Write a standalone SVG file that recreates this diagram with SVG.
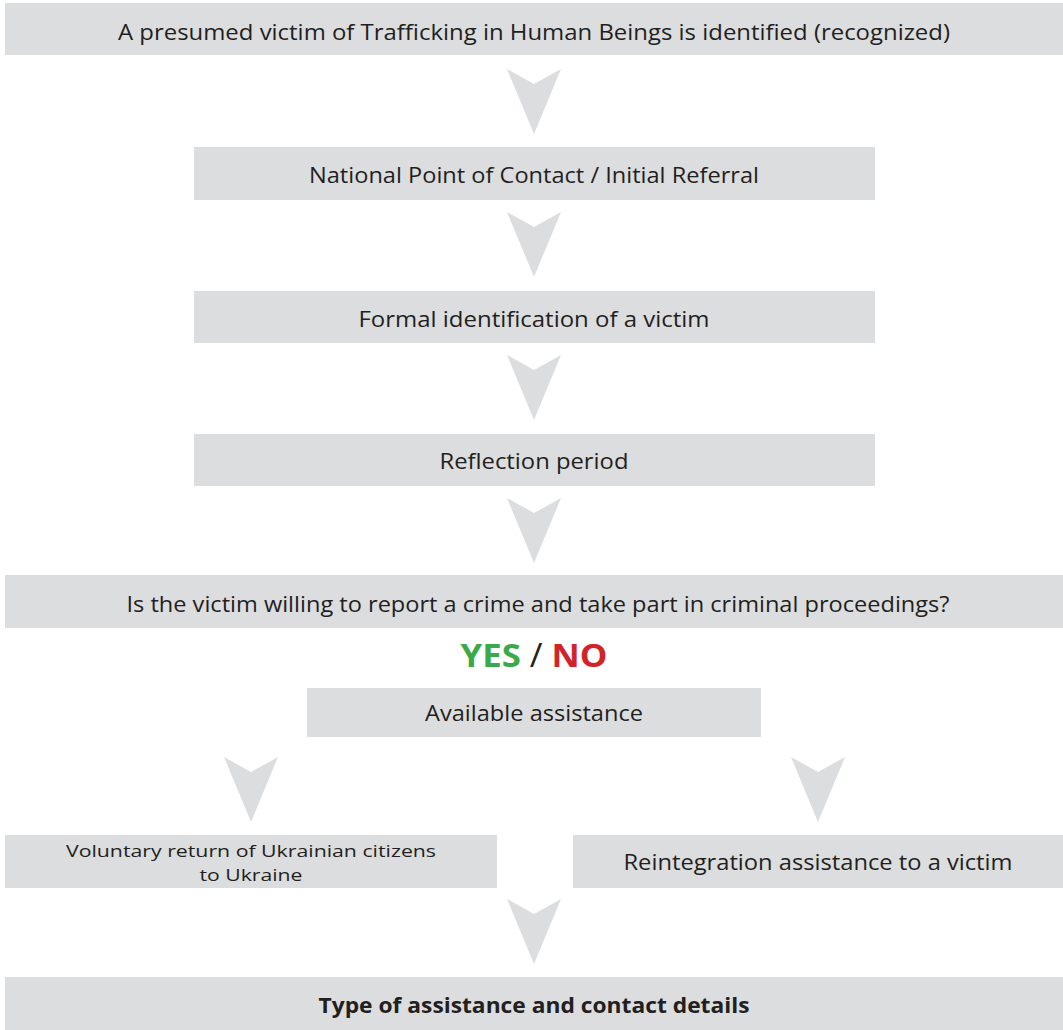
<svg xmlns="http://www.w3.org/2000/svg" width="1063" height="1030" viewBox="0 0 1063 1030">
<style>
.box{fill:#dcdddf}
.arr{fill:#dcdddf}
text{font-family:"Open Sans","Liberation Sans",sans-serif;fill:#231f20;text-anchor:middle}
.t{font-size:22px}
.s{font-size:17px}
.b{font-weight:bold;font-size:22px}
</style>
<defs>
<polygon id="arrow" points="-27,0 0,15 27,0 0,65"/>
</defs>
<rect width="1063" height="1030" fill="#ffffff"/>
<g id="connectors">
<use href="#arrow" class="arr" x="534" y="69"/>
<use href="#arrow" class="arr" x="534" y="212"/>
<use href="#arrow" class="arr" x="534" y="355"/>
<use href="#arrow" class="arr" x="534" y="498"/>
<use href="#arrow" class="arr" x="251" y="757"/>
<use href="#arrow" class="arr" x="818" y="757"/>
<use href="#arrow" class="arr" x="534" y="899"/>
</g>
<g id="n1"><rect class="box" x="5" y="3" width="1058" height="52"/><text class="t" x="534" y="40" textLength="832" lengthAdjust="spacingAndGlyphs">A presumed victim of Trafficking in Human Beings is identified (recognized)</text></g>
<g id="n2"><rect class="box" x="194" y="147" width="681" height="53"/><text class="t" x="534" y="183" textLength="450" lengthAdjust="spacingAndGlyphs">National Point of Contact / Initial Referral</text></g>
<g id="n3"><rect class="box" x="194" y="291" width="681" height="52"/><text class="t" x="534" y="327" textLength="351" lengthAdjust="spacingAndGlyphs">Formal identification of a victim</text></g>
<g id="n4"><rect class="box" x="194" y="434" width="681" height="52"/><text class="t" x="534" y="469" textLength="189" lengthAdjust="spacingAndGlyphs">Reflection period</text></g>
<g id="n5"><rect class="box" x="5" y="575" width="1058" height="53"/><text class="t" x="538" y="612" textLength="823" lengthAdjust="spacingAndGlyphs">Is the victim willing to report a crime and take part in criminal proceedings?</text></g>
<g id="yesno"><text x="534" y="667" style="font-size:33px;font-weight:bold" textLength="147" lengthAdjust="spacingAndGlyphs"><tspan fill="#3aaa48">YES</tspan><tspan style="font-weight:normal" fill="#231f20"> / </tspan><tspan fill="#d2232a">NO</tspan></text></g>
<g id="n6"><rect class="box" x="307" y="688" width="454" height="49"/><text class="t" x="534" y="721" textLength="218" lengthAdjust="spacingAndGlyphs">Available assistance</text></g>
<g id="n7"><rect class="box" x="5" y="835" width="492" height="53"/><text class="s" x="251" y="857" textLength="370" lengthAdjust="spacingAndGlyphs">Voluntary return of Ukrainian citizens</text><text class="s" x="251" y="881" textLength="103" lengthAdjust="spacingAndGlyphs">to Ukraine</text></g>
<g id="n8"><rect class="box" x="573" y="835" width="490" height="53"/><text class="t" x="818" y="870" textLength="389" lengthAdjust="spacingAndGlyphs">Reintegration assistance to a victim</text></g>
<g id="n9"><rect class="box" x="5" y="977" width="1058" height="53"/><text class="b" x="534" y="1013" textLength="431" lengthAdjust="spacingAndGlyphs">Type of assistance and contact details</text></g>
</svg>
